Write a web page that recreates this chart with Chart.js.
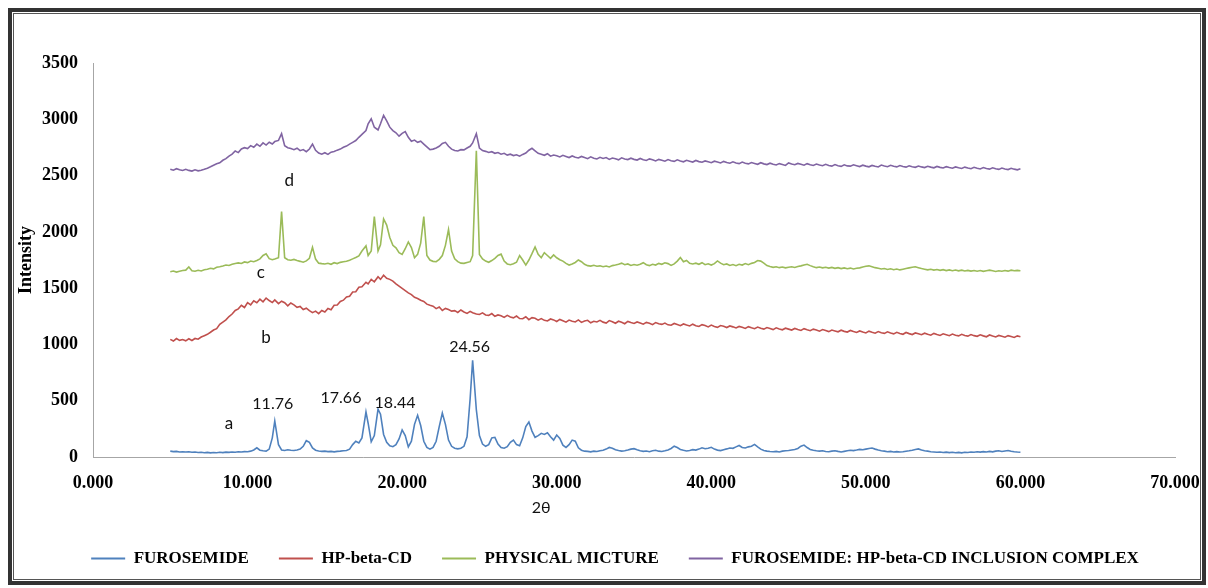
<!DOCTYPE html>
<html>
<head>
<meta charset="utf-8">
<title>XRD patterns</title>
<script src="https://cdn.jsdelivr.net/npm/chart.js@4.4.1/dist/chart.umd.min.js"></script>
<style>
  html, body { margin: 0; padding: 0; background: #fff; }
  #wrap { position: relative; width: 1208px; height: 588px; }
  #xrd { position: absolute; left: 0; top: 0; }
  /* double frame around the whole figure */
  #frame {
    position: absolute; left: 8px; top: 8px; width: 1198px; height: 577px;
    box-sizing: border-box; border: 4px solid #333;
    box-shadow: inset 0 0 0 1px #fff, inset 0 0 0 2px #555;
    pointer-events: none;
  }
</style>
</head>
<body>
<div id="wrap">
  <canvas id="xrd" width="1208" height="588"></canvas>
  <div id="frame"></div>
</div>
<script>
// 2-theta positions (degrees), shared by all four patterns
const twoTheta = [
  5.0, 5.2, 5.4, 5.6, 5.8, 6.0, 6.2, 6.4, 6.6, 6.8,
  7.0, 7.2, 7.4, 7.6, 7.8, 8.0, 8.2, 8.4, 8.6, 8.8,
  9.0, 9.2, 9.4, 9.6, 9.8, 10.0, 10.2, 10.4, 10.6, 10.8,
  11.0, 11.2, 11.4, 11.6, 11.76, 12.0, 12.2, 12.4, 12.6, 12.8,
  13.0, 13.2, 13.4, 13.6, 13.8, 14.0, 14.2, 14.4, 14.6, 14.8,
  15.0, 15.2, 15.4, 15.6, 15.8, 16.0, 16.2, 16.4, 16.6, 16.8,
  17.0, 17.2, 17.4, 17.66, 17.8, 18.0, 18.2, 18.44, 18.6, 18.8,
  19.0, 19.2, 19.4, 19.6, 19.8, 20.0, 20.2, 20.4, 20.6, 20.8,
  21.0, 21.2, 21.4, 21.6, 21.8, 22.0, 22.2, 22.4, 22.6, 22.8,
  23.0, 23.2, 23.4, 23.6, 23.8, 24.0, 24.2, 24.4, 24.56, 24.8,
  25.0, 25.2, 25.4, 25.6, 25.8, 26.0, 26.2, 26.4, 26.6, 26.8,
  27.0, 27.2, 27.4, 27.6, 27.8, 28.0, 28.2, 28.4, 28.6, 28.8,
  29.0, 29.2, 29.4, 29.6, 29.8, 30.0, 30.2, 30.4, 30.6, 30.8,
  31.0, 31.2, 31.4, 31.6, 31.8, 32.0, 32.2, 32.4, 32.6, 32.8,
  33.0, 33.2, 33.4, 33.6, 33.8, 34.0, 34.2, 34.4, 34.6, 34.8,
  35.0, 35.2, 35.4, 35.6, 35.8, 36.0, 36.2, 36.4, 36.6, 36.8,
  37.0, 37.2, 37.4, 37.6, 37.8, 38.0, 38.2, 38.4, 38.6, 38.8,
  39.0, 39.2, 39.4, 39.6, 39.8, 40.0, 40.2, 40.4, 40.6, 40.8,
  41.0, 41.2, 41.4, 41.6, 41.8, 42.0, 42.2, 42.4, 42.6, 42.8,
  43.0, 43.2, 43.4, 43.6, 43.8, 44.0, 44.2, 44.4, 44.6, 44.8,
  45.0, 45.2, 45.4, 45.6, 45.8, 46.0, 46.2, 46.4, 46.6, 46.8,
  47.0, 47.2, 47.4, 47.6, 47.8, 48.0, 48.2, 48.4, 48.6, 48.8,
  49.0, 49.2, 49.4, 49.6, 49.8, 50.0, 50.2, 50.4, 50.6, 50.8,
  51.0, 51.2, 51.4, 51.6, 51.8, 52.0, 52.2, 52.4, 52.6, 52.8,
  53.0, 53.2, 53.4, 53.6, 53.8, 54.0, 54.2, 54.4, 54.6, 54.8,
  55.0, 55.2, 55.4, 55.6, 55.8, 56.0, 56.2, 56.4, 56.6, 56.8,
  57.0, 57.2, 57.4, 57.6, 57.8, 58.0, 58.2, 58.4, 58.6, 58.8,
  59.0, 59.2, 59.4, 59.6, 59.8, 60.0
];

// (a) furosemide
const furosemide = [
  52, 48, 50, 45, 47, 44, 46, 42, 44, 40,
  42, 38, 41, 37, 40, 38, 42, 39, 43, 41,
  45, 42, 46, 44, 48, 47, 52, 62, 82, 60,
  55, 52, 70, 170, 320, 110, 62, 58, 64, 60,
  58, 62, 70, 95, 145, 130, 80, 60, 54, 50,
  52, 48, 50, 46, 50, 52, 55, 58, 70, 110,
  140, 125, 170, 400, 300, 135, 190, 425, 380, 200,
  130, 100, 92, 110, 160, 240, 190, 90, 140, 290,
  370, 280, 140, 85, 70, 85, 140, 270, 390, 290,
  150, 95, 78, 72, 78, 95, 180, 520, 860, 420,
  190, 115, 95, 110, 170, 175, 115, 85, 78, 92,
  130, 150, 110, 100, 170, 270, 310, 230, 175, 190,
  210, 200, 215, 180, 150, 195, 165, 105, 85, 110,
  150, 140, 82, 60, 52, 50, 46, 52, 49, 56,
  60, 70, 85, 78, 64, 57, 52, 55, 62, 70,
  74, 64, 55, 50, 53, 47, 55, 60, 52, 49,
  55, 63, 76, 96, 84, 67, 60, 54, 58, 65,
  61, 70, 82, 74, 78, 86, 70, 61, 57, 65,
  72, 80, 77, 90, 102, 84, 80, 90, 96, 112,
  90, 70, 58, 52, 49, 47, 50, 45, 52, 55,
  58, 62, 66, 76, 96, 106, 84, 67, 60, 55,
  52, 55, 49, 47, 52, 56, 50, 45, 50, 55,
  60, 57, 62, 68, 64, 70, 76, 80, 70, 62,
  56, 52, 47, 50, 45, 48, 44, 46, 51, 55,
  60, 66, 72, 63, 56, 52, 47, 45, 42, 44,
  40, 43, 39, 42, 38, 41, 37, 42, 40, 44,
  42, 46, 43, 48, 44, 50, 46, 52, 55, 49,
  54, 58, 51, 47, 44, 42
];

// (b) HP-beta-CD
const hpBetaCd = [
  1045, 1030, 1052, 1036, 1044, 1032, 1050, 1035, 1053, 1046,
  1066, 1078, 1090, 1108, 1128, 1140, 1178, 1198, 1218, 1248,
  1270, 1302, 1316, 1348, 1328, 1372, 1352, 1388, 1370, 1402,
  1378, 1412, 1390, 1372, 1396, 1362, 1384, 1370, 1342, 1368,
  1352, 1330, 1338, 1310, 1322, 1300, 1282, 1296, 1274, 1302,
  1288, 1320, 1308, 1348, 1350, 1382, 1393, 1422, 1428, 1466,
  1468, 1508, 1512, 1552, 1538, 1578, 1556, 1602, 1578, 1615,
  1588, 1578, 1562, 1538, 1518, 1498, 1478, 1458, 1442, 1418,
  1408, 1392, 1382, 1358, 1348, 1340, 1318, 1332, 1302, 1320,
  1310, 1296, 1300, 1284, 1306, 1288, 1276, 1294, 1282, 1270,
  1266, 1280, 1262, 1258, 1274, 1250, 1262, 1255, 1240, 1258,
  1244, 1236, 1252, 1230, 1228, 1246, 1220, 1238, 1232, 1216,
  1230, 1214, 1208, 1226, 1218, 1204, 1222, 1210, 1198, 1216,
  1206, 1200, 1218, 1196, 1208, 1214, 1192, 1206, 1200, 1214,
  1198, 1190, 1212, 1202, 1188, 1206, 1196, 1184, 1204, 1194,
  1186, 1200, 1190, 1180, 1196, 1188, 1176, 1194, 1184, 1178,
  1190, 1174, 1170, 1186, 1176, 1166, 1182, 1172, 1164, 1180,
  1166, 1160, 1176, 1168, 1156, 1172, 1160, 1152, 1168, 1162,
  1150, 1164, 1156, 1146, 1160, 1152, 1142, 1158, 1148, 1140,
  1154, 1144, 1136, 1150, 1142, 1132, 1148, 1138, 1130, 1144,
  1136, 1128, 1142, 1132, 1124, 1140, 1130, 1122, 1136, 1128,
  1118, 1132, 1124, 1114, 1128, 1120, 1112, 1126, 1116, 1110,
  1124, 1114, 1106, 1120, 1110, 1102, 1118, 1108, 1100, 1114,
  1104, 1098, 1112, 1102, 1094, 1108, 1098, 1090, 1106, 1096,
  1088, 1102, 1094, 1086, 1100, 1090, 1082, 1098, 1088, 1080,
  1094, 1086, 1078, 1092, 1082, 1076, 1090, 1080, 1074, 1088,
  1078, 1072, 1086, 1076, 1068, 1084, 1074, 1066, 1080, 1072,
  1064, 1078, 1070, 1062, 1076, 1068
];

// (c) physical mixture
const physicalMixture = [
  1646, 1652, 1643, 1650, 1656, 1660, 1688, 1655, 1650, 1659,
  1653, 1663, 1668, 1676, 1671, 1685, 1690, 1697, 1706, 1701,
  1712, 1719, 1724, 1719, 1733, 1727, 1741, 1735, 1746, 1760,
  1790, 1805, 1762, 1752, 1758, 1770, 2180, 1770, 1752, 1748,
  1755, 1745, 1738, 1730, 1742, 1765, 1862, 1758, 1722, 1718,
  1715, 1721, 1712, 1726, 1718, 1729, 1735, 1739, 1748, 1760,
  1772, 1786, 1830, 1875, 1790, 1830, 2135, 1830, 1885, 2115,
  2060, 1950, 1880, 1858, 1815, 1800, 1850, 1910, 1860, 1770,
  1800, 1900, 2135, 1790, 1750, 1738, 1735, 1756, 1790, 1880,
  2020, 1830, 1760, 1735, 1722, 1720, 1728, 1735, 1790, 2720,
  1800, 1760, 1740, 1730, 1745, 1765, 1790, 1802, 1740, 1715,
  1708, 1716, 1730, 1790, 1750, 1705, 1750, 1806, 1866, 1800,
  1770, 1815, 1790, 1765, 1795, 1770, 1752, 1740, 1720, 1705,
  1715, 1728, 1750, 1735, 1712, 1700, 1696, 1703, 1694, 1698,
  1690, 1697, 1688, 1700, 1705, 1712, 1722, 1708, 1715, 1702,
  1710, 1704, 1712, 1726, 1708, 1700, 1712, 1705, 1720, 1712,
  1725, 1718, 1702, 1715, 1740, 1772, 1735, 1746, 1720, 1715,
  1722, 1712, 1726, 1708, 1716, 1705, 1718, 1742, 1722, 1708,
  1715, 1702, 1710, 1700, 1712, 1705, 1718, 1708, 1720, 1728,
  1745, 1740, 1722, 1700, 1692, 1685, 1690, 1682, 1688, 1680,
  1686, 1690, 1684, 1692, 1698, 1706, 1712, 1700, 1690, 1682,
  1688, 1680, 1686, 1678, 1684, 1676, 1682, 1674, 1680, 1672,
  1678, 1670, 1676, 1680, 1688, 1694, 1698, 1690, 1682, 1676,
  1670, 1674, 1666, 1672, 1664, 1670, 1662, 1668, 1674, 1680,
  1686, 1690, 1682, 1674, 1668, 1662, 1668, 1660, 1666, 1658,
  1664, 1656, 1662, 1655, 1661, 1654, 1660, 1652, 1658, 1651,
  1657, 1650, 1656, 1649, 1655, 1660, 1654, 1648, 1655, 1650,
  1657, 1651, 1660, 1654, 1658, 1655
];

// (d) furosemide : HP-beta-CD inclusion complex
const inclusionComplex = [
  2557, 2548, 2561, 2551, 2545, 2556, 2546, 2540, 2551, 2542,
  2548, 2556, 2566, 2578, 2591, 2604, 2613, 2636, 2650, 2673,
  2690, 2718, 2704, 2736, 2748, 2740, 2766, 2751, 2779, 2760,
  2790, 2771, 2796, 2780, 2802, 2812, 2872, 2765, 2748, 2740,
  2730, 2743, 2721, 2731, 2712, 2736, 2780, 2724, 2700, 2690,
  2703, 2688, 2708, 2713, 2726, 2735, 2751, 2762, 2779, 2795,
  2811, 2840, 2866, 2900, 2960, 3005, 2930, 2905, 2960, 3035,
  2985, 2930, 2900, 2880, 2850, 2875, 2890, 2840, 2805, 2815,
  2795, 2805, 2780, 2755, 2730, 2735, 2745, 2760, 2785, 2795,
  2760, 2735, 2722, 2718, 2730, 2728, 2745, 2760, 2790, 2872,
  2745, 2722, 2715, 2705, 2712, 2698, 2705, 2690, 2698, 2682,
  2690, 2678, 2685, 2672, 2688, 2700, 2725, 2742, 2720, 2698,
  2690, 2680, 2694, 2672, 2682, 2676, 2666, 2680, 2670, 2660,
  2674, 2662, 2656, 2670, 2660, 2650, 2666, 2654, 2648, 2662,
  2652, 2660, 2644, 2656, 2650, 2640, 2658, 2648, 2642, 2654,
  2644, 2638, 2652, 2640, 2634, 2648, 2640, 2630, 2644, 2636,
  2628, 2642, 2632, 2626, 2640, 2630, 2622, 2636, 2628, 2620,
  2634, 2624, 2618, 2630, 2622, 2614, 2628, 2620, 2612, 2626,
  2616, 2610, 2622, 2612, 2606, 2620, 2610, 2604, 2616, 2608,
  2600, 2614, 2604, 2598, 2610, 2600, 2594, 2606, 2598, 2590,
  2612, 2602, 2596, 2608, 2600, 2592, 2606, 2596, 2590, 2602,
  2594, 2588, 2600, 2590, 2584, 2598, 2588, 2582, 2596, 2586,
  2584, 2596, 2588, 2580, 2592, 2584, 2578, 2590, 2582, 2576,
  2593, 2585, 2579, 2591, 2583, 2577, 2589, 2581, 2575, 2587,
  2579, 2573, 2585, 2577, 2571, 2583, 2575, 2569, 2581, 2573,
  2567, 2579, 2571, 2565, 2577, 2569, 2563, 2575, 2567, 2561,
  2573, 2565, 2559, 2571, 2563, 2557, 2569, 2561, 2555, 2567,
  2559, 2553, 2565, 2557, 2551, 2561
];

const seriesNames = [
  'FUROSEMIDE',
  'HP-beta-CD',
  'PHYSICAL MICTURE',
  'FUROSEMIDE: HP-beta-CD INCLUSION COMPLEX'
];
const seriesColors = ['#4F81BD', '#C0504D', '#9BBB59', '#8064A2'];

// furosemide reflections that get a 2-theta label
const peakLabels = [11.76, 17.66, 18.44, 24.56];

const SERIF = "'Liberation Serif', 'Times New Roman', serif";
const SANS = "Lato, 'DejaVu Sans', sans-serif";

function toPoints(values) {
  return values.map((v, i) => ({ x: twoTheta[i], y: v }));
}

// letters next to each trace, the peak values, and the 2θ axis caption
const notesPlugin = {
  id: 'notes',
  afterDatasetsDraw(chart) {
    const { ctx, chartArea, scales: { x, y } } = chart;
    ctx.save();
    ctx.fillStyle = '#111';
    ctx.textAlign = 'center';
    ctx.textBaseline = 'middle';

    ctx.font = '17px ' + SANS;
    const tags = [
      { text: 'a', x: 8.8, y: 295 },
      { text: 'b', x: 11.2, y: 1065 },
      { text: 'c', x: 10.85, y: 1635 },
      { text: 'd', x: 12.7, y: 2455 }
    ];
    tags.forEach(t => ctx.fillText(t.text, x.getPixelForValue(t.x), y.getPixelForValue(t.y)));

    ctx.font = '16px ' + SANS;
    const shift = { 11.76: [-2, -17], 17.66: [-25, -14], 18.44: [17, -6], 24.56: [-3, -13] };
    peakLabels.forEach(p => {
      const i = twoTheta.indexOf(p);
      const px = x.getPixelForValue(p) + shift[p][0];
      const py = y.getPixelForValue(furosemide[i]) + shift[p][1];
      ctx.fillText(p.toFixed(2), px, py);
    });

    ctx.font = '16px ' + SANS;
    ctx.fillText('2θ', x.getPixelForValue(29), chartArea.bottom + 51);
    ctx.restore();
  }
};

new Chart(document.getElementById('xrd'), {
  type: 'line',
  data: {
    datasets: [furosemide, hpBetaCd, physicalMixture, inclusionComplex].map((vals, k) => ({
      label: seriesNames[k],
      data: toPoints(vals),
      borderColor: seriesColors[k],
      backgroundColor: seriesColors[k],
      borderWidth: 1.6,
      pointRadius: 0,
      tension: 0,
      fill: false
    }))
  },
  options: {
    responsive: false,
    animation: false,
    layout: { padding: { left: 22, right: 0, top: 63, bottom: 11 } },
    scales: {
      x: {
        type: 'linear',
        min: 0,
        max: 70,
        grid: { display: false, drawTicks: false },
        border: { display: true, color: '#a6a6a6', width: 1 },
        ticks: {
          stepSize: 10,
          padding: 16,
          maxRotation: 0,
          color: '#000',
          font: { family: SERIF, size: 18, weight: 'bold' },
          callback: v => Number(v).toFixed(3)
        },
        afterFit(scale) {
          scale.height = 63;
          scale.paddingLeft = 0;
          scale.paddingRight = 33;
        }
      },
      y: {
        min: 0,
        max: 3500,
        grid: { display: false, drawTicks: false },
        border: { display: true, color: '#a6a6a6', width: 1 },
        ticks: {
          stepSize: 500,
          padding: 15,
          color: '#000',
          font: { family: SERIF, size: 18, weight: 'bold' },
          callback: v => String(v)
        },
        title: {
          display: true,
          text: 'Intensity',
          color: '#000',
          font: { family: SERIF, size: 18, weight: 'bold' },
          padding: { top: -6, bottom: 0 }
        },
        afterFit(scale) {
          scale.width = 71;
          scale.paddingTop = 0;
          scale.paddingBottom = 0;
        }
      }
    },
    plugins: {
      tooltip: { enabled: false },
      legend: {
        position: 'bottom',
        labels: {
          color: '#000',
          font: { family: SERIF, size: 17, weight: 'bold' },
          boxWidth: 34,
          boxHeight: 2,
          padding: 30,
          generateLabels(chart) {
            return Chart.defaults.plugins.legend.labels.generateLabels(chart)
              .map(item => Object.assign(item, { lineWidth: 0 }));
          }
        }
      }
    }
  },
  plugins: [notesPlugin]
});
</script>
</body>
</html>
